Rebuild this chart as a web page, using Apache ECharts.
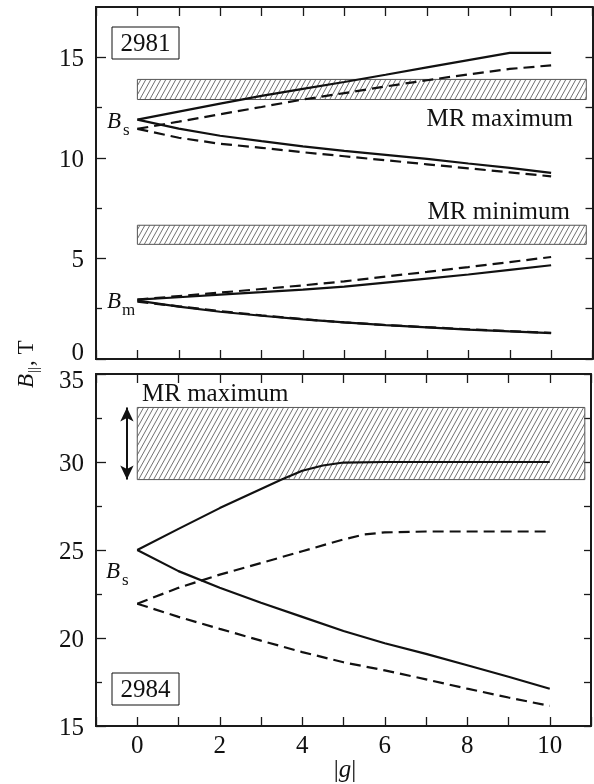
<!DOCTYPE html>
<html><head><meta charset="utf-8">
<script src="https://cdn.jsdelivr.net/npm/echarts@6/dist/echarts.min.js"></script>
<style>html,body{margin:0;padding:0;background:#fff}#c{width:594px;height:784px}</style>
</head><body><div id="c"></div>
<script>
// ---- data ----
const xVals = [0,1,2,3,4,5,6,7,8,9,10];
// panel 2981
const bsUpSolid = [11.9,12.3,12.7,13.08,13.43,13.77,14.13,14.5,14.86,15.22,15.22];
const bsUpDash  = [11.44,11.8,12.17,12.53,12.9,13.22,13.55,13.86,14.15,14.42,14.6];
const bsLoSolid = [11.9,11.45,11.1,10.83,10.57,10.35,10.15,9.95,9.72,9.5,9.25];
const bsLoDash  = [11.44,11.0,10.7,10.5,10.28,10.08,9.88,9.68,9.48,9.28,9.08];
const bmUpSolid = [2.95,3.07,3.2,3.32,3.45,3.6,3.8,4.0,4.2,4.43,4.66];
const bmUpDash  = [2.95,3.13,3.3,3.48,3.66,3.86,4.1,4.33,4.57,4.82,5.07];
const bmLoSolid = [2.9,2.6,2.35,2.15,1.97,1.82,1.68,1.57,1.46,1.37,1.29];
const bmLoDash  = [2.85,2.62,2.38,2.17,1.98,1.82,1.69,1.58,1.48,1.39,1.3];
// panel 2984
const x2UpSolid = [0,1,2,3,3.5,4,4.5,5,6,7,8,9,10];
const b2UpSolid = [25,26.2,27.38,28.47,29.0,29.5,29.8,29.97,30,30,30,30,30];
const b2LoSolid = [25,23.8,22.85,22.0,21.2,20.4,19.7,19.1,18.45,17.8,17.12];
const x2UpDash  = [0,1,2,3,4,5,5.5,6,7,8,9,10];
const b2UpDash  = [21.95,22.85,23.6,24.26,24.93,25.6,25.88,26.0,26.05,26.05,26.05,26.05];
const b2LoDash  = [21.95,21.2,20.52,19.85,19.2,18.62,18.16,17.65,17.12,16.62,16.14];
// MR bands: [xStart, xEnd, yLow, yHigh]
const bandsTop = [[0,10.85,12.9,13.9],[0,10.85,5.7,6.65]];
const bandsBottom = [[0,10.85,29.0,33.1]];
// arrow (range of MR maximum)
const arrowX = -0.25, arrowY = [33.1, 29.0];
// ticks
const xTickLabels = [0,2,4,6,8,10];
const yMajorTop = [0,5,10,15], yMinorTop = [2.5,7.5,12.5];
const yMajorBot = [15,20,25,30,35], yMinorBot = [17.5,22.5,27.5,32.5];

const zip = (xs, ys) => xs.map((x,i)=>[x, ys[i]]);

// hatch pattern
const pc = document.createElement('canvas');
pc.width = 5; pc.height = 9;
const g = pc.getContext('2d');
g.strokeStyle = '#333'; g.lineWidth = 0.7;
for (let k=-1;k<=1;k++){ g.beginPath(); g.moveTo(k*5,9); g.lineTo(k*5+5,0); g.stroke(); }
const hatch = {image: pc, repeat: 'repeat'};

const FONT = 'Liberation Serif';
const AX = '#1a1a1a';

function xAx(grid, pos, labels){
  return {type:'value', gridIndex:grid, position:pos, min:-1, max:11, interval:1,
    axisLine:{show:true, onZero:false, lineStyle:{color:AX, width:2}},
    axisTick:{show:true, inside:true, length:9, lineStyle:{color:AX, width:1.3}},
    splitLine:{show:false},
    axisLabel:{show:labels, color:'#111', fontFamily:FONT, fontSize:25, margin:8,
      formatter: v => xTickLabels.includes(v) ? String(v) : ''}};
}
function yAx(grid, pos, min, max, vals, len, labels, fmt){
  return {type:'value', gridIndex:grid, position:pos, min:min, max:max, interval:2.5,
    axisLine:{show:true, onZero:false, lineStyle:{color:AX, width:2}},
    axisTick:{show:true, inside:true, length:len, customValues: vals, lineStyle:{color:AX, width:1.3}},
    splitLine:{show:false},
    axisLabel:{show:labels, customValues: vals, color:'#111', fontFamily:FONT, fontSize:25, margin:12,
      formatter: fmt, rich:{
        lo:{fontFamily:FONT, fontSize:25, color:'#111', padding:[0,0,12,0]},
        hi:{fontFamily:FONT, fontSize:25, color:'#111', padding:[14,0,0,0]},
        n:{fontFamily:FONT, fontSize:25, color:'#111', padding:[5,0,0,0]}}}};
}

const line = (xi, yi, data, dashed) => ({type:'line', xAxisIndex:xi, yAxisIndex:yi, data:data,
  symbol:'none', z:5, lineStyle:{color:'#111', width:2.2, type: dashed ? [11,6] : 'solid'}});

function bandRender(params, api){
  const p0 = api.coord([api.value(0), api.value(3)]);
  const p1 = api.coord([api.value(1), api.value(2)]);
  return {type:'rect', shape:{x:p0[0], y:p0[1], width:p1[0]-p0[0], height:p1[1]-p0[1]},
    style:{fill:hatch, stroke:'#555', lineWidth:1}};
}

const chart = echarts.init(document.getElementById('c'), null, {renderer:'canvas'});
chart.setOption({
  animation:false,
  backgroundColor:'#fff',
  grid:[{left:96, right:1.5, top:7, height:352},{left:96, right:1.5, top:374, height:352}],
  xAxis:[xAx(0,'bottom',false), xAx(0,'top',false), xAx(1,'bottom',true), xAx(1,'top',false)],
  yAxis:[
    yAx(0,'left',0,17.5,yMajorTop,10,true, v => v===0 ? '{lo|0}' : '{n|'+v+'}'),
    yAx(0,'left',0,17.5,yMinorTop,6,false),
    yAx(0,'right',0,17.5,yMajorTop.concat(yMinorTop),7,false),
    yAx(1,'left',15,35,yMajorBot,10,true, v => v===35 ? '{hi|35}' : '{n|'+v+'}'),
    yAx(1,'left',15,35,yMinorBot,6,false),
    yAx(1,'right',15,35,yMajorBot.concat(yMinorBot),7,false)
  ],
  series:[
    {type:'custom', xAxisIndex:0, yAxisIndex:0, data:bandsTop, renderItem:bandRender, z:1, encode:{x:[0,1], y:[2,3]}},
    {type:'custom', xAxisIndex:2, yAxisIndex:3, data:bandsBottom, renderItem:bandRender, z:1, encode:{x:[0,1], y:[2,3]}},
    line(0,0,zip(xVals,bsUpSolid),false),
    line(0,0,zip(xVals,bsUpDash),true),
    line(0,0,zip(xVals,bsLoSolid),false),
    line(0,0,zip(xVals,bsLoDash),true),
    line(0,0,zip(xVals,bmUpSolid),false),
    line(0,0,zip(xVals,bmUpDash),true),
    line(0,0,zip(xVals,bmLoSolid),false),
    line(0,0,zip(xVals,bmLoDash),true),
    line(2,3,zip(x2UpSolid,b2UpSolid),false),
    line(2,3,zip(xVals,b2LoSolid),false),
    line(2,3,zip(x2UpDash,b2UpDash),true),
    line(2,3,zip(xVals,b2LoDash),true),
    {type:'line', xAxisIndex:2, yAxisIndex:3, data:[], symbol:'none',
      markLine:{silent:true, symbol:['arrow','arrow'], symbolSize:[10,14], label:{show:false},
        lineStyle:{color:'#111', width:2, type:'solid'},
        data:[[{coord:[arrowX, arrowY[0]]},{coord:[arrowX, arrowY[1]]}]]}}
  ],
  graphic:[
    {type:'rect', shape:{x:112, y:27, width:67, height:32}, style:{fill:'#fff', stroke:'#111', lineWidth:1}, z:10},
    {type:'text', x:145.5, y:44, style:{text:'2981', font:'25px "Liberation Serif"', fill:'#111', align:'center', verticalAlign:'middle'}, z:11},
    {type:'rect', shape:{x:112, y:673, width:67, height:32}, style:{fill:'#fff', stroke:'#111', lineWidth:1}, z:10},
    {type:'text', x:145.5, y:690, style:{text:'2984', font:'25px "Liberation Serif"', fill:'#111', align:'center', verticalAlign:'middle'}, z:11},
    {type:'text', x:573, y:119, style:{text:'MR maximum', font:'25px "Liberation Serif"', fill:'#111', align:'right', verticalAlign:'middle'}, z:11},
    {type:'text', x:570, y:212, style:{text:'MR minimum', font:'25px "Liberation Serif"', fill:'#111', align:'right', verticalAlign:'middle'}, z:11},
    {type:'text', x:142, y:394, style:{text:'MR maximum', font:'25px "Liberation Serif"', fill:'#111', align:'left', verticalAlign:'middle'}, z:11},
    {type:'text', x:107, y:122, style:{text:'B', font:'italic 23px "Liberation Serif"', fill:'#111', align:'left', verticalAlign:'middle'}, z:11},
    {type:'text', x:123, y:131, style:{text:'s', font:'17px "Liberation Serif"', fill:'#111', align:'left', verticalAlign:'middle'}, z:11},
    {type:'text', x:107, y:302, style:{text:'B', font:'italic 23px "Liberation Serif"', fill:'#111', align:'left', verticalAlign:'middle'}, z:11},
    {type:'text', x:122, y:311, style:{text:'m', font:'17px "Liberation Serif"', fill:'#111', align:'left', verticalAlign:'middle'}, z:11},
    {type:'text', x:106, y:572, style:{text:'B', font:'italic 23px "Liberation Serif"', fill:'#111', align:'left', verticalAlign:'middle'}, z:11},
    {type:'text', x:122, y:581, style:{text:'s', font:'17px "Liberation Serif"', fill:'#111', align:'left', verticalAlign:'middle'}, z:11},
    {type:'group', x:27, y:362, rotation:Math.PI/2, children:[
      {type:'text', x:-26, y:0, style:{text:'B', font:'italic 23px "Liberation Serif"', fill:'#111', align:'left', verticalAlign:'middle'}},
      {type:'text', x:-11, y:7, style:{text:'||', font:'15px "Liberation Serif"', fill:'#111', align:'left', verticalAlign:'middle'}},
      {type:'text', x:-4, y:0, style:{text:', T', font:'23px "Liberation Serif"', fill:'#111', align:'left', verticalAlign:'middle'}}
    ]},
    {type:'text', x:345, y:770, style:{text:'{n||}{i|g}{n||}', align:'center', verticalAlign:'middle',
      rich:{n:{font:'25px "Liberation Serif"', fill:'#111'}, i:{font:'italic 25px "Liberation Serif"', fill:'#111'}}}, z:11}
  ]
});
</script></body></html>
